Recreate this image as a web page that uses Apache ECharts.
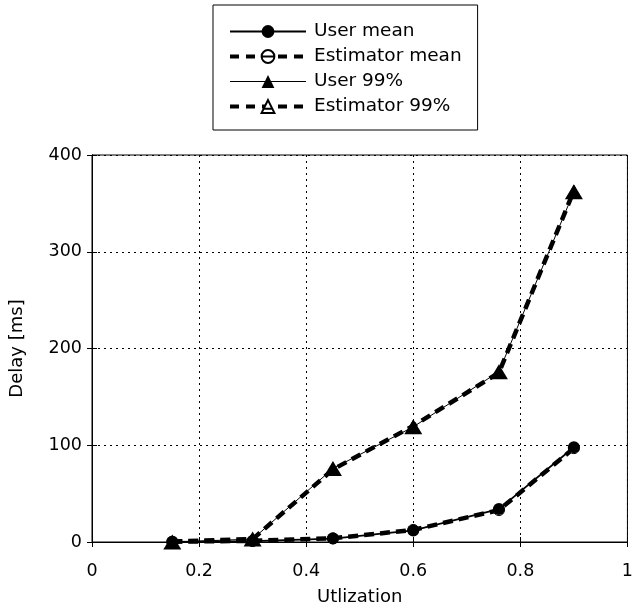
<!DOCTYPE html>
<html>
<head>
<meta charset="utf-8">
<script src="https://cdn.jsdelivr.net/npm/echarts@6/dist/echarts.min.js"></script>
<style>html,body{margin:0;padding:0;background:#fff}#c{width:636px;height:612px}</style>
</head>
<body>
<div id="c"></div>
<script>
const utilization = [0.15, 0.3, 0.45, 0.6, 0.76, 0.9];
const userMean = [0.2, 1, 3.5, 12, 34, 98];
const estMean = [0.3, 1.2, 3.8, 12.5, 33, 97];
const user99 = [0, 3, 76, 119, 176, 362];
const est99 = [0.5, 3, 75, 120, 175, 363];
const xTicks = [0, 0.2, 0.4, 0.6, 0.8, 1];
const yTicks = [0, 100, 200, 300, 400];
const seriesNames = ['User mean', 'Estimator mean', 'User 99%', 'Estimator 99%'];

const pair = (xs, ys) => xs.map((x, i) => [x, ys[i]]);
const F = '"DejaVu Sans", Verdana, sans-serif';
const circleLine = 'path://M0,10 A10,10 0 1,1 20,10 A10,10 0 1,1 0,10 Z M0,10 L20,10';
const hollowTri = 'path://M10,0 L20,18 L0,18 Z M3,12 L17,12';
const legendLines = [
  { color: '#000', width: 1.8, type: 'solid' },
  { color: '#000', width: 4, type: [9, 7] },
  { color: '#000', width: 1, type: 'solid' },
  { color: '#000', width: 4, type: [9, 7] }
];

const tickAxis = {
  axisLine: { show: true, lineStyle: { color: '#000' } },
  axisTick: { show: true, inside: true, length: 5, lineStyle: { color: '#000' } },
  axisLabel: { show: false }, splitLine: { show: false }
};

const chart = echarts.init(document.getElementById('c'));
chart.setOption({
  animation: false,
  backgroundColor: '#fff',
  grid: { left: 92, right: 4, top: 155, bottom: 70, show: true, borderColor: '#000', borderWidth: 1, backgroundColor: 'transparent' },
  legend: {
    orient: 'vertical', left: 213, top: 5,
    data: seriesNames.map((n, i) => ({ name: n, lineStyle: legendLines[i] })),
    itemWidth: 76, itemHeight: 16, itemGap: 6,
    padding: [17, 16, 14, 15],
    borderColor: '#000', borderWidth: 1, backgroundColor: '#fff',
    textStyle: { fontFamily: F, fontSize: 18.5, color: '#000', padding: [0, 0, 0, 3] }
  },
  xAxis: [{
    type: 'value', min: 0, max: 1, interval: 0.2,
    name: 'Utlization', nameLocation: 'middle', nameGap: 46,
    nameTextStyle: { fontFamily: F, fontSize: 18, color: '#000' },
    axisLine: { lineStyle: { color: '#000' } },
    axisTick: { inside: true, length: 5, lineStyle: { color: '#000' } },
    axisLabel: { fontFamily: F, fontSize: 17.5, color: '#000', margin: 20, formatter: v => xTicks.includes(v) ? String(v) : '' },
    splitLine: { show: true, lineStyle: { color: '#000', type: [2, 4], width: 1 } }
  }, Object.assign({ type: 'value', min: 0, max: 1, interval: 0.2, position: 'top' }, tickAxis)],
  yAxis: [{
    type: 'value', min: 0, max: 400, interval: 100,
    name: 'Delay [ms]', nameLocation: 'middle', nameGap: 66, nameRotate: 90,
    nameTextStyle: { fontFamily: F, fontSize: 18, color: '#000' },
    axisLine: { show: true, lineStyle: { color: '#000' } },
    axisTick: { inside: true, length: 5, lineStyle: { color: '#000' } },
    axisLabel: { fontFamily: F, fontSize: 17.5, color: '#000', margin: 10, formatter: v => yTicks.includes(v) ? String(v) : '' },
    splitLine: { show: true, lineStyle: { color: '#000', type: [2, 4], width: 1 } }
  }, Object.assign({ type: 'value', min: 0, max: 400, interval: 100, position: 'right' }, tickAxis)],
  series: [
    { name: 'User mean', type: 'line', data: pair(utilization, userMean), z: 4,
      symbol: 'circle', symbolSize: 12, lineStyle: { color: '#000', width: 1.8 },
      itemStyle: { color: '#000' } },
    { name: 'Estimator mean', type: 'line', data: pair(utilization, estMean), z: 3,
      symbol: circleLine, symbolSize: 11, lineStyle: { color: '#000', width: 4.5, type: [10, 6] },
      itemStyle: { color: '#fff', borderColor: '#000', borderWidth: 1 } },
    { name: 'User 99%', type: 'line', data: pair(utilization, user99), z: 4,
      symbol: 'triangle', symbolSize: [18, 15], lineStyle: { color: '#000', width: 1 },
      itemStyle: { color: '#000' } },
    { name: 'Estimator 99%', type: 'line', data: pair(utilization, est99), z: 3,
      symbol: hollowTri, symbolSize: 11, lineStyle: { color: '#000', width: 4.5, type: [10, 6] },
      itemStyle: { color: '#fff', borderColor: '#000', borderWidth: 1 } }
  ]
});
</script>
</body>
</html>
